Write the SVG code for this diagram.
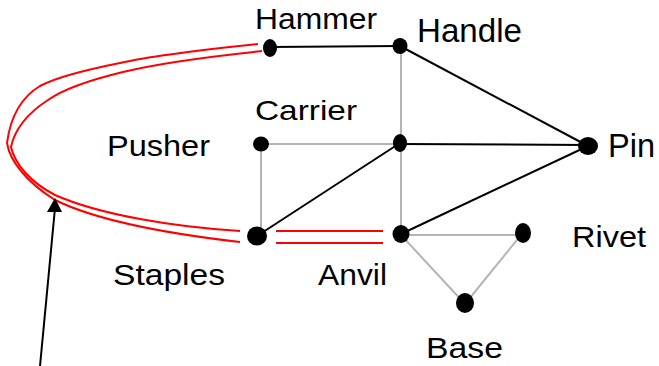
<svg xmlns="http://www.w3.org/2000/svg" width="659" height="366" viewBox="0 0 659 366">
<style>
.lbl{font-family:"Liberation Sans",Arial,sans-serif;fill:#000}
.blk{stroke:#000;stroke-width:2;fill:none}
.gry{stroke:#b4b4b4;stroke-width:2;fill:none}
.red{stroke:#ff0000;stroke-width:2;fill:none}
.dot{fill:#000}
</style>
<rect width="659" height="366" fill="#fff"/>
<g id="connectors">
<path class="red" d="M258,44 C200,50 150,56 120,63 C85,70 55,78 40,86 C20,98 10,120 7,143 C10,162 28,183 55,200 C100,222 170,234 240,242"/>
<path class="red" d="M262,51 C205,57 155,64 123,72 C90,80 65,88 48,100 C28,113 15,128 11,147 C15,164 30,182 55,195 C100,215 175,227 240,231"/>
<line class="red" x1="276" y1="231" x2="383" y2="231"/>
<line class="red" x1="276" y1="243" x2="383" y2="243"/>
<line class="gry" x1="401" y1="46" x2="401" y2="234"/>
<line class="gry" x1="261" y1="144" x2="400" y2="144"/>
<line class="gry" x1="261" y1="144" x2="261" y2="236"/>
<line class="gry" x1="401" y1="235" x2="521" y2="235"/>
<line class="gry" x1="401" y1="235" x2="465" y2="304"/>
<line class="gry" x1="521" y1="235" x2="465" y2="304"/>
<line class="blk" x1="270" y1="47" x2="400" y2="46"/>
<line class="blk" x1="400" y1="46" x2="588" y2="146"/>
<line class="blk" x1="400" y1="144" x2="588" y2="145"/>
<line class="blk" x1="400" y1="143" x2="257" y2="236"/>
<line class="blk" x1="401" y1="234" x2="588" y2="146"/>
<line class="blk" x1="40" y1="366" x2="55" y2="208"/>
<polygon points="55,198 47,212 62,212" fill="#000"/>
</g>
<g id="hammer"><ellipse class="dot" cx="270" cy="48" rx="7" ry="9"/><text class="lbl" x="255" y="29" font-size="29" textLength="122" lengthAdjust="spacingAndGlyphs">Hammer</text></g>
<g id="handle"><ellipse class="dot" cx="400" cy="46" rx="7.5" ry="8"/><text class="lbl" x="417" y="42" font-size="33" textLength="105" lengthAdjust="spacingAndGlyphs">Handle</text></g>
<g id="carrier"><ellipse class="dot" cx="400" cy="143" rx="7" ry="9"/><text class="lbl" x="255" y="120" font-size="28" textLength="102" lengthAdjust="spacingAndGlyphs">Carrier</text></g>
<g id="pusher"><ellipse class="dot" cx="261" cy="144" rx="8" ry="7.5"/><text class="lbl" x="107" y="156" font-size="29" textLength="103" lengthAdjust="spacingAndGlyphs">Pusher</text></g>
<g id="pin"><ellipse class="dot" cx="588" cy="146" rx="10" ry="9"/><text class="lbl" x="608" y="157" font-size="33" textLength="47" lengthAdjust="spacingAndGlyphs">Pin</text></g>
<g id="staples"><ellipse class="dot" cx="257" cy="236" rx="10" ry="9.5"/><text class="lbl" x="113" y="285" font-size="29" textLength="112" lengthAdjust="spacingAndGlyphs">Staples</text></g>
<g id="anvil"><ellipse class="dot" cx="401" cy="234" rx="8.5" ry="9"/><text class="lbl" x="318" y="285" font-size="29" textLength="69" lengthAdjust="spacingAndGlyphs">Anvil</text></g>
<g id="rivet"><ellipse class="dot" cx="523" cy="233" rx="8" ry="10"/><text class="lbl" x="572" y="247" font-size="30" textLength="74" lengthAdjust="spacingAndGlyphs">Rivet</text></g>
<g id="base"><ellipse class="dot" cx="465" cy="303" rx="9" ry="10"/><text class="lbl" x="426" y="358" font-size="30" textLength="77" lengthAdjust="spacingAndGlyphs">Base</text></g>
</svg>
